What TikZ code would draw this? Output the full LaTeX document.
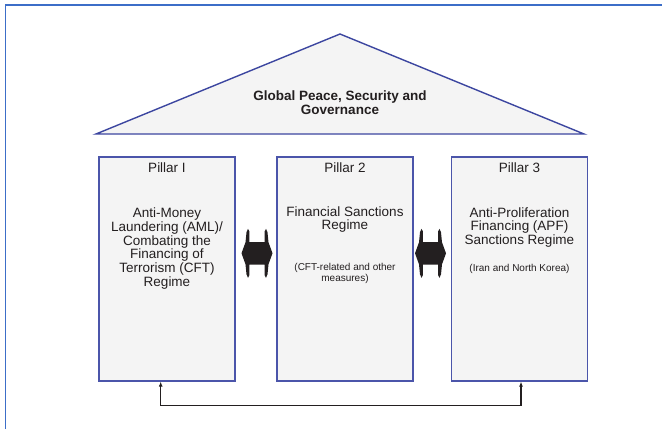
\documentclass[tikz,border=0pt]{standalone}
\usepackage{fontspec}
\setmainfont{Liberation Sans}
\usetikzlibrary{arrows.meta}
\definecolor{frameblue}{RGB}{60,110,200}
\definecolor{boxline}{RGB}{75,85,170}
\definecolor{roofline}{RGB}{60,70,160}
\definecolor{boxfill}{RGB}{244,244,244}
\definecolor{inkdark}{RGB}{35,31,32}
\tikzset{
  pillarbox/.style={draw=boxline, fill=boxfill, line width=1.3pt, minimum width=136pt, minimum height=224pt, inner sep=0pt},
  headtext/.style={font=\fontsize{13.5}{14}\selectfont, text=inkdark, inner sep=0pt},
  bodytext/.style={font=\fontsize{13.5}{13.8}\selectfont, text=inkdark, align=center, inner sep=0pt},
  smalltext/.style={font=\fontsize{10}{11}\selectfont, text=inkdark, align=center, inner sep=0pt},
  linkline/.style={draw=inkdark, line width=1.3pt, {Latex[length=5pt,width=4pt]}-{Latex[length=5pt,width=4pt]}},
  blockarrow/.pic={
    \fill[inkdark] (-15.5,0) -- (-11.5,-11) -- (-10.5,-21) -- (-9,-24.5) -- (-7.7,-22) -- (-7.7,-11.3)
      -- (7.7,-11.3) -- (7.7,-22) -- (9,-24.5) -- (10.5,-21) -- (11.5,-11) -- (15.5,0)
      -- (11.5,11) -- (10.5,21) -- (9,24.5) -- (7.7,22) -- (7.7,11.3)
      -- (-7.7,11.3) -- (-7.7,22) -- (-9,24.5) -- (-10.5,21) -- (-11.5,11) -- cycle;
  }
}
\begin{document}
\begin{tikzpicture}[x=1pt,y=-1pt]
\useasboundingbox (0,0) rectangle (662,429);
\fill[white] (0,0) rectangle (662,429);
% frame
\draw[frameblue, line width=1.5pt] (5.5,429) -- (5.5,5) -- (662,5);
% roof
\coordinate (apex) at (340,34);
\coordinate (baseL) at (96,134);
\coordinate (baseR) at (584,134);
\draw[roofline, fill=boxfill, line width=1.4pt, line join=miter] (baseL) -- (apex) -- (baseR) -- cycle;
\node[font=\bfseries\fontsize{13.5}{14.3}\selectfont, text=inkdark, align=center, inner sep=0pt] (roof) at (340,103) {Global Peace, Security and\\Governance};
% pillars
\node[pillarbox] (p1) at (167,269) {};
\node[pillarbox] (p2) at (345,269) {};
\node[pillarbox] (p3) at (519.5,269) {};
\node[headtext] (h1) at (167,168) {Pillar I};
\node[headtext] (h2) at (345,168) {Pillar 2};
\node[headtext] (h3) at (519.5,168) {Pillar 3};
\node[bodytext] (t1) at (167,248.5) {Anti-Money\\Laundering (AML)/\\Combating the\\Financing of\\Terrorism (CFT)\\Regime};
\node[bodytext] (t2) at (345,219.5) {Financial Sanctions\\Regime};
\node[smalltext] (s2) at (345,273.5) {(CFT-related and other\\measures)};
\node[bodytext] (t3) at (519.5,227.5) {Anti-Proliferation\\Financing (APF)\\Sanctions Regime};
\node[smalltext] (s3) at (519.5,269) {(Iran and North Korea)};
% block arrows
\pic at (257,253.3) {blockarrow};
\pic at (430.5,253.3) {blockarrow};
% bottom link
\coordinate (b1) at (160.7,405.5);
\coordinate (b2) at (521,405.5);
\draw[linkline] (p1.south -| b1) -- (b1) -- (b2) -- (p3.south -| b2);
\end{tikzpicture}
\end{document}
